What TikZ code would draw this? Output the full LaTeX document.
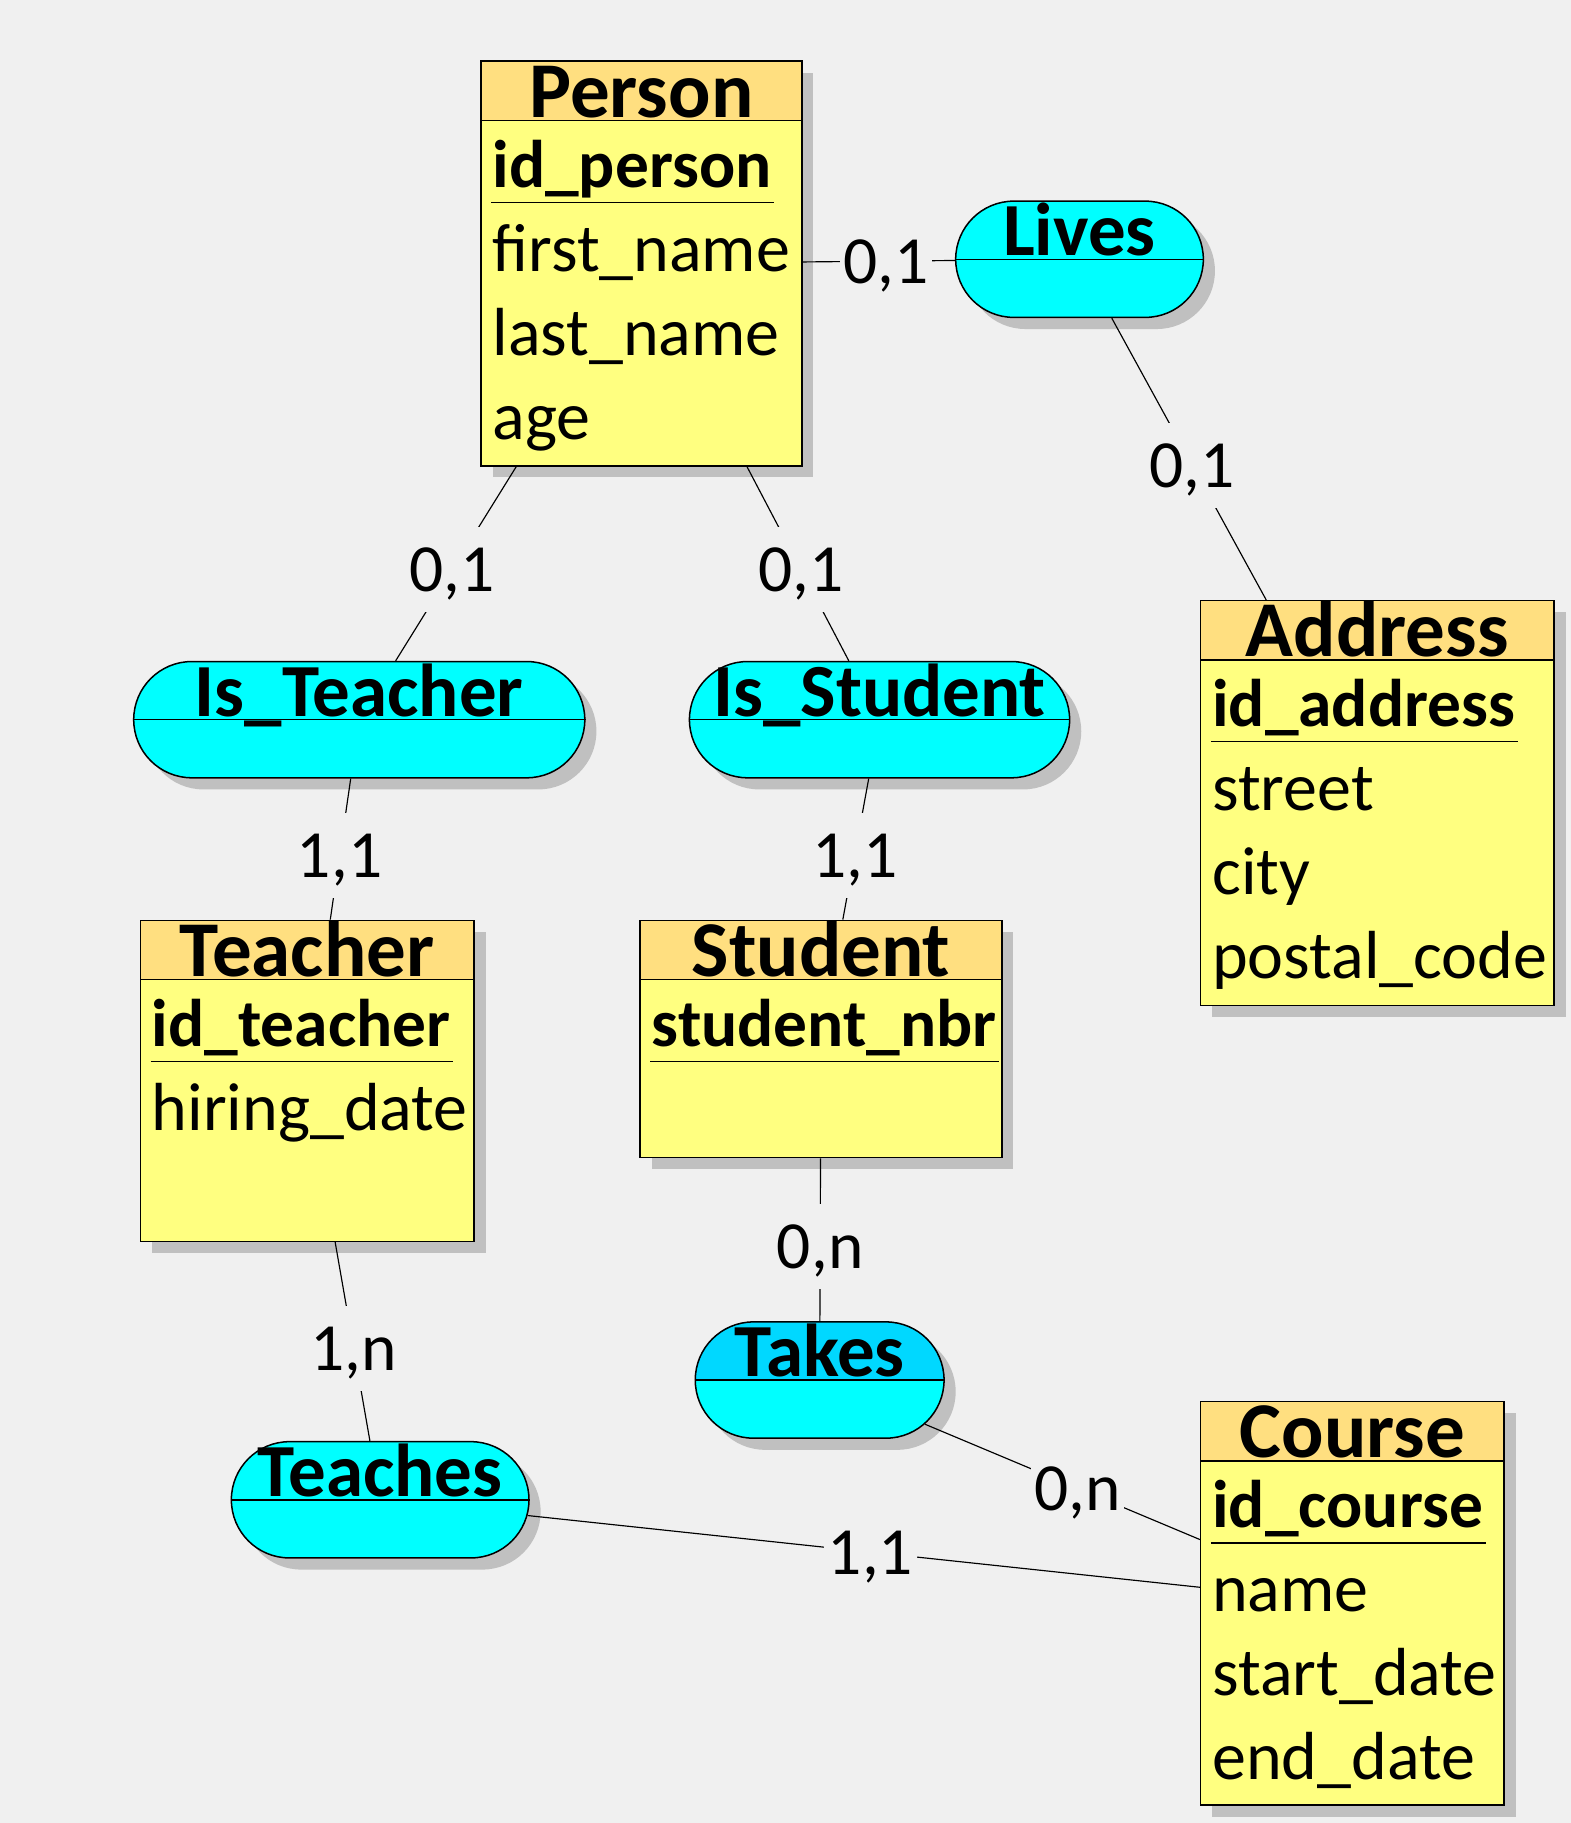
\documentclass[tikz,border=0pt]{standalone}
\usepackage{fontspec}
\setmainfont{Carlito}
\usetikzlibrary{shapes.misc,shadows,calc}
\definecolor{bg}{HTML}{F0F0F0}
\definecolor{titlefill}{HTML}{FFDF80}
\definecolor{bodyfill}{HTML}{FFFF80}
\definecolor{relfill}{HTML}{00FFFF}
\definecolor{reltop}{HTML}{00D8FF}
\definecolor{shadowgray}{HTML}{C0C0C0}
\begin{document}
\begin{tikzpicture}[x=1pt,y=-1pt,
  myshadow/.style={drop shadow={shadow xshift=10pt,shadow yshift=-10pt,fill=shadowgray,opacity=1}},
  ent/.style={rectangle,draw=black,line width=1.3pt,fill=bodyfill,inner sep=0pt,anchor=north west,myshadow},
  enthead/.style={rectangle,draw=black,line width=1.3pt,fill=titlefill,inner sep=0pt,anchor=north west,minimum height=51pt},
  enttitle/.style={font=\fontsize{68}{72}\selectfont\bfseries,inner sep=0pt,anchor=base},
  keyattr/.style={font=\fontsize{58}{66}\selectfont\bfseries,inner sep=0pt,anchor=base west},
  attr/.style={font=\fontsize{58.5}{66}\selectfont,inner sep=0pt,anchor=base west},
  keyline/.style={line width=1.2pt},
  rel/.style={rounded rectangle,rounded rectangle arc length=180,draw=black,line width=1.3pt,fill=relfill,minimum height=100pt,inner sep=0pt,myshadow},
  reltitle/.style={font=\fontsize{64.5}{68}\selectfont\bfseries,inner sep=0pt,anchor=base},
  divider/.style={line width=1.3pt},
  conn/.style={line width=1pt,draw=black},
  card/.style={font=\fontsize{58}{66}\selectfont,fill=bg,text height=51pt,text depth=13pt,inner xsep=3pt,inner ysep=4.5pt}
]
\fill[bg] (0,0) rectangle (1351,1568);
\useasboundingbox (0,0) rectangle (1351,1568);

% ---------- Person ----------
\node[ent,minimum width=276pt,minimum height=348pt] (person) at (413,52) {};
\node[enthead,minimum width=276pt] (personH) at (person.north west) {};
\node[enttitle] (personT) at ($(person.north)+(0,49)$) {Person};
\node[keyattr] (pk) at ($(person.north west)+(10.5,109)$) {id\_person};
\draw[keyline] ($(pk.base west)+(-1,13)$) -- ($(pk.base east)+(2,13)$);
\node[attr] (pa1) at ($(person.north west)+(10.5,181.3)$) {first\_name};
\node[attr] (pa2) at ($(person.north west)+(10.5,253.6)$) {last\_name};
\node[attr] (pa3) at ($(person.north west)+(10.5,325.9)$) {age};

% ---------- Address ----------
\node[ent,minimum width=304pt,minimum height=348pt] (address) at (1032,516) {};
\node[enthead,minimum width=304pt] (addressH) at (address.north west) {};
\node[enttitle] (addressT) at ($(address.north)+(0,49)$) {Address};
\node[keyattr] (ak) at ($(address.north west)+(10.5,109)$) {id\_address};
\draw[keyline] ($(ak.base west)+(-1,13)$) -- ($(ak.base east)+(2,13)$);
\node[attr] (aa1) at ($(address.north west)+(10.5,181.3)$) {street};
\node[attr] (aa2) at ($(address.north west)+(10.5,253.6)$) {city};
\node[attr] (aa3) at ($(address.north west)+(10.5,325.9)$) {postal\_code};

% ---------- Teacher ----------
\node[ent,minimum width=287pt,minimum height=276pt] (teacher) at (120,791) {};
\node[enthead,minimum width=287pt] (teacherH) at (teacher.north west) {};
\node[enttitle] (teacherT) at ($(teacher.north)+(0,49)$) {Teacher};
\node[keyattr] (tk) at ($(teacher.north west)+(10.5,109)$) {id\_teacher};
\draw[keyline] ($(tk.base west)+(-1,13)$) -- ($(tk.base east)+(2,13)$);
\node[attr] (ta1) at ($(teacher.north west)+(10.5,181.3)$) {hiring\_date};

% ---------- Student ----------
\node[ent,minimum width=311pt,minimum height=204pt] (student) at (550,791) {};
\node[enthead,minimum width=311pt] (studentH) at (student.north west) {};
\node[enttitle] (studentT) at ($(student.north)+(0,49)$) {Student};
\node[keyattr] (sk) at ($(student.north west)+(10.5,109)$) {student\_nbr};
\draw[keyline] ($(sk.base west)+(-1,13)$) -- ($(sk.base east)+(2,13)$);

% ---------- Course ----------
\node[ent,minimum width=261pt,minimum height=347pt] (course) at (1032,1205) {};
\node[enthead,minimum width=261pt] (courseH) at (course.north west) {};
\node[enttitle] (courseT) at ($(course.north)+(0,49)$) {Course};
\node[keyattr] (ck) at ($(course.north west)+(10.5,109)$) {id\_course};
\draw[keyline] ($(ck.base west)+(-1,13)$) -- ($(ck.base east)+(2,13)$);
\node[attr] (ca1) at ($(course.north west)+(10.5,181.3)$) {name};
\node[attr] (ca2) at ($(course.north west)+(10.5,253.6)$) {start\_date};
\node[attr] (ca3) at ($(course.north west)+(10.5,325.9)$) {end\_date};

% ---------- Relationships ----------
\node[rel,minimum width=213pt] (lives) at (928.5,223) {};
\draw[divider] (lives.west) -- (lives.east);
\node[reltitle] (livesT) at ($(lives.center)+(0,-3)$) {Lives};

\node[rel,minimum width=388pt] (isteacher) at (309,619) {};
\draw[divider] (isteacher.west) -- (isteacher.east);
\node[reltitle] (isteacherT) at ($(isteacher.center)+(0,-3)$) {Is\_Teacher};

\node[rel,minimum width=327pt] (isstudent) at (756.5,619) {};
\draw[divider] (isstudent.west) -- (isstudent.east);
\node[reltitle] (isstudentT) at ($(isstudent.center)+(0,-3)$) {Is\_Student};

\node[rel,minimum width=214pt,path picture={\fill[reltop] (path picture bounding box.north west) rectangle (path picture bounding box.east);}] (takes) at (705,1187) {};
\draw[divider] (takes.west) -- (takes.east);
\node[reltitle] (takesT) at ($(takes.center)+(0,-3)$) {Takes};

\node[rel,minimum width=256pt] (teaches) at (327,1290) {};
\draw[divider] (teaches.west) -- (teaches.east);
\node[reltitle] (teachesT) at ($(teaches.center)+(0,-3)$) {Teaches};

% ---------- Connectors ----------
\draw[conn] (person) -- node[card,pos=0.545] (c1) {0,1} (lives);
\draw[conn] (lives) -- node[card,pos=0.522] (c2) {0,1} (address);
\draw[conn] (person) -- node[card,pos=0.53] (c3) {0,1} (isteacher);
\draw[conn] (person) -- node[card,pos=0.53] (c4) {0,1} (isstudent);
\draw[conn] (isteacher) -- node[card,pos=0.545] (c5) {1,1} (teacher);
\draw[conn] (isstudent) -- node[card,pos=0.545] (c6) {1,1} (student);
\draw[conn] (teacher) -- node[card,pos=0.535] (c7) {1,n} (teaches);
\draw[conn] (student) -- node[card,pos=0.54] (c8) {0,n} (takes);
\draw[conn] (takes) -- node[card,pos=0.555] (c9) {0,n} (course);
\draw[conn] (teaches) -- node[card,pos=0.51] (c10) {1,1} (course);
\end{tikzpicture}
\end{document}
